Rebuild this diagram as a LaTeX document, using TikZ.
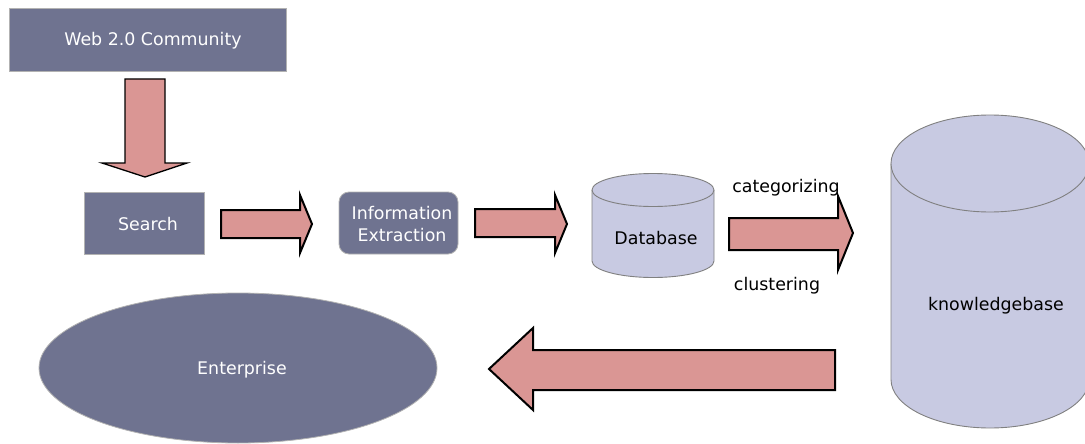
\documentclass[tikz,border=0pt]{standalone}
\usepackage{fontspec}
\setmainfont{DejaVu Sans}
\usetikzlibrary{shapes.geometric}
\definecolor{darkbox}{HTML}{6F7390}
\definecolor{pinkarr}{HTML}{DA9694}
\definecolor{cylfill}{HTML}{C8CAE2}
\definecolor{cyledge}{HTML}{808080}
\begin{document}
\begin{tikzpicture}[x=1pt,y=-1pt,
  every node/.style={font=\fontsize{17.4}{22}\selectfont, inner sep=0pt},
  darknode/.style={fill=darkbox, draw=gray!60, line width=0.8pt},
  wtxt/.style={text=white, align=center},
  blockarrow/.style={fill=pinkarr, draw=black, line width=2pt, line join=miter},
  cylstyle/.style={fill=cylfill, draw=cyledge, line width=0.9pt},
  lbl/.style={text=black}]
\useasboundingbox (0,0) rectangle (1085,444);

% boxes
\node[darknode, minimum width=277pt, minimum height=63pt] (web) at (147.5,39.5) {};
\node[wtxt] (webtxt) at (153,40.5) {Web 2.0 Community};
\node[darknode, minimum width=120pt, minimum height=62pt] (search) at (144,223) {};
\node[wtxt] (searchtxt) at (148,224) {Search};
\node[darknode, rounded corners=10pt, minimum width=119pt, minimum height=62pt] (ie) at (398.5,223) {};
\node[wtxt] (ietxt) at (402,224) {Information\\Extraction};
\node[darknode, ellipse, minimum width=398pt, minimum height=150pt] (ent) at (238,368) {};
\node[wtxt] (enttxt) at (242,370) {Enterprise};

% down arrow
\draw[blockarrow, line width=1.3pt] (125,79) -- (165,79) -- (165,163) -- (187,163) -- (145,177) -- (102,163) -- (125,163) -- cycle;
% right arrows
\draw[blockarrow] (221,210) -- (300,210) -- (300,195) -- (312,224) -- (300,253) -- (300,238) -- (221,238) -- cycle;
\draw[blockarrow] (475,209) -- (555,209) -- (555,195) -- (567,224) -- (555,253) -- (555,237) -- (475,237) -- cycle;
\draw[blockarrow] (729,218) -- (838,218) -- (838,196) -- (853,233) -- (838,270) -- (838,250) -- (729,250) -- cycle;
% left arrow
\draw[blockarrow] (835,350) -- (533,350) -- (533,328) -- (489,369) -- (533,410) -- (533,390) -- (835,390) -- cycle;

% database cylinder
\draw[cylstyle] (592,190) -- (592,261) arc[start angle=180, end angle=360, x radius=61pt, y radius=16.5pt] -- (714,190);
\draw[cylstyle] (653,190) ellipse[x radius=61pt, y radius=16.5pt];
\node[lbl] (db) at (656,238) {Database};

% knowledgebase cylinder
\draw[cylstyle] (891,163.5) -- (891,379.5) arc[start angle=180, end angle=360, x radius=99pt, y radius=48.5pt] -- (1089,163.5);
\draw[cylstyle] (990,163.5) ellipse[x radius=99pt, y radius=48.5pt];
\node[lbl] (kb) at (996,306) {knowledgebase};

% labels
\node[lbl] (cat) at (786,188) {categorizing};
\node[lbl] (clu) at (777,286) {clustering};
\end{tikzpicture}
\end{document}
